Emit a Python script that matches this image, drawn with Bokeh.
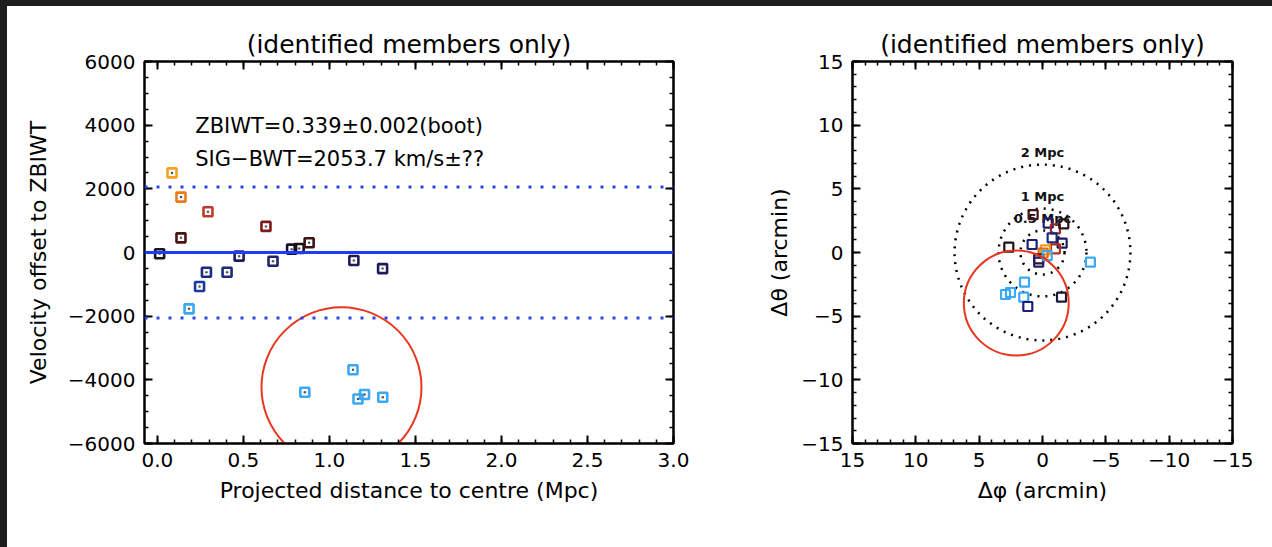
from bokeh.plotting import figure
from bokeh.models import (ColumnDataSource, Range1d, LinearAxis, SingleIntervalTicker,
                          Span, Label, CustomJSTickFormatter)
from bokeh.layouts import row
from bokeh.embed import file_html
from bokeh.resources import INLINE
from bokeh.core.properties import value

FONT = "DejaVu Sans"

# ---------------- data: left panel (velocity offset vs projected distance) ----------
dist_mpc = [0.085, 0.137, 0.294, 0.137, 0.631, 0.013, 0.475, 0.672, 0.780, 0.824, 0.882,
            0.285, 0.405, 0.245, 0.184, 1.142, 1.309,
            1.137, 0.857, 1.166, 1.204, 1.310]
vel_offset = [2500, 1740, 1280, 460, 820, -40, -115, -275, 105, 125, 305,
              -620, -620, -1070, -1770, -250, -505,
              -3685, -4390, -4600, -4460, -4545]
colors_left = ["#F6A21E", "#EE7A16", "#C43A2A", "#4A1414", "#7A1A1A", "#16161E", "#1E1E64",
               "#22226A", "#101030", "#1A1010", "#3A1212",
               "#1A2A80", "#1E2A7A", "#1A3A9A", "#38A8F0", "#1C1C5C", "#1C1C5C",
               "#3AA8F5", "#3AA8F5", "#3AA8F5", "#3AA8F5", "#3AA8F5"]

ZBIWT = 0.339
ZBIWT_ERR = 0.002
SIG_BWT = 2053.7

x1_ticks = [0.0, 0.5, 1.0, 1.5, 2.0, 2.5, 3.0]
x1_labels = ["0.0", "0.5", "1.0", "1.5", "2.0", "2.5", "3.0"]
y1_ticks = [-6000, -4000, -2000, 0, 2000, 4000, 6000]
y1_labels = ["\u22126000", "\u22124000", "\u22122000", "0", "2000", "4000", "6000"]

# highlight circle (left), centre in data units
hl1_x = [1.07]
hl1_y = [-4232]

# ---------------- data: right panel (sky positions) ----------------
dphi = [0.74, -0.45, -1.02, -1.68, -0.76, -1.55, -1.02, 0.82, 2.66, -0.23, -0.05,
        0.30, 0.30, -0.37, -3.78, 1.42, 2.92, 2.53, 1.48, -1.50, 1.16]
dtheta = [2.98, 2.30, 1.86, 2.25, 1.15, 0.73, 0.29, 0.63, 0.42, 0.21, -0.05,
          -0.50, -0.76, -0.24, -0.76, -2.33, -3.30, -3.14, -3.51, -3.51, -4.24]
colors_right = ["#4A1010", "#1E1E6E", "#A02828", "#2A1515", "#1E2A80", "#1C1C5C", "#B03020",
                "#1E1E78", "#1A1414", "#F29A18", "#E86A10",
                "#3A1414", "#1E1E6E", "#3AA8F5", "#3AA8F5", "#3AA8F5", "#3AA8F5", "#3AA8F5",
                "#3AA8F5", "#1A1A3A", "#1E1E80"]

ring_radius = [1.74, 3.47, 6.94]
ring_label = ["0.5 Mpc", "1 Mpc", "2 Mpc"]

x2_ticks = [15, 10, 5, 0, -5, -10, -15]
x2_labels = ["15", "10", "5", "0", "\u22125", "\u221210", "\u221215"]
y2_ticks = [-15, -10, -5, 0, 5, 10, 15]
y2_labels = ["\u221215", "\u221210", "\u22125", "0", "5", "10", "15"]

hl2_x = [2.07]
hl2_y = [-3.97]
hl2_r = [4.14]


def style_axis(ax, labels=True):
    ax.axis_line_color = "black"
    ax.axis_line_width = 2
    ax.major_tick_line_color = "black"
    ax.major_tick_line_width = 2
    ax.minor_tick_line_color = "black"
    ax.minor_tick_line_width = 1.5
    ax.major_tick_in = 8
    ax.major_tick_out = 0
    ax.minor_tick_in = 4
    ax.minor_tick_out = 0
    if labels:
        ax.major_label_text_font = FONT
        ax.major_label_text_font_size = "20px"
        ax.major_label_text_color = "black"
        ax.major_label_standoff = 9
        ax.axis_label_text_font = FONT
        ax.axis_label_text_font_size = "22px"
        ax.axis_label_text_font_style = "normal"
        ax.axis_label_text_color = "black"
    else:
        ax.formatter = CustomJSTickFormatter(code="return ''")
        ax.major_label_standoff = 0


def base_fig(width, xr, yr, mb_left, mb_right):
    p = figure(width=width, height=541, x_range=xr, y_range=yr,
               output_backend="svg", toolbar_location=None,
               min_border_left=mb_left, min_border_right=mb_right,
               min_border_top=55, min_border_bottom=104)
    p.grid.visible = False
    p.background_fill_color = "white"
    p.border_fill_color = "white"
    p.outline_line_color = "black"
    p.outline_line_width = 2
    p.title.text = "(identified members only)"
    p.title.text_font = FONT
    p.title.text_font_size = "25px"
    p.title.text_font_style = "normal"
    p.title.text_color = "black"
    p.title.align = "center"
    p.title.standoff = 6
    return p


# ---------------- left figure ----------------
p1 = base_fig(753, Range1d(-0.075, 3.0), Range1d(-6000, 6000), 137, 87)
xt1 = SingleIntervalTicker(interval=0.5, num_minor_ticks=5)
yt1 = SingleIntervalTicker(interval=2000, num_minor_ticks=4)
p1.xaxis.ticker = xt1
p1.yaxis.ticker = yt1
p1.xaxis.major_label_overrides = dict(zip(x1_ticks, x1_labels))
p1.yaxis.major_label_overrides = dict(zip(y1_ticks, y1_labels))
p1.xaxis.axis_label = "Projected distance to centre (Mpc)"
p1.yaxis.axis_label = "Velocity offset to ZBIWT"
for ax in p1.xaxis + p1.yaxis:
    style_axis(ax)
p1.xaxis.axis_label_standoff = 8
p1.yaxis.axis_label_standoff = 14
for loc, tk in (("above", xt1), ("right", yt1)):
    ax = LinearAxis(ticker=tk)
    style_axis(ax, labels=False)
    p1.add_layout(ax, loc)

p1.add_layout(Span(location=0, dimension="width", line_color="#1F3BFF", line_width=3))
for s in (SIG_BWT, -SIG_BWT):
    p1.add_layout(Span(location=s, dimension="width", line_color="#2A44F0",
                       line_width=3, line_dash="3 9"))

src1 = ColumnDataSource(dict(x=dist_mpc, y=vel_offset, c=colors_left))
p1.scatter("x", "y", source=src1, marker="square", size=9, fill_color=None,
           line_color="c", line_width=2.6)
p1.scatter("x", "y", source=src1, marker="circle", size=2.5, fill_color="#555555",
           line_color=None)

p1.add_layout(Label(x=0.22, y=3960, text=f"ZBIWT={ZBIWT:.3f}\u00b1{ZBIWT_ERR:.3f}(boot)",
                    text_font=FONT, text_font_size="21px", text_baseline="middle",
                    text_color="black"))
p1.add_layout(Label(x=0.22, y=2950, text=f"SIG\u2212BWT={SIG_BWT:.1f} km/s\u00b1??",
                    text_font=FONT, text_font_size="21px", text_baseline="middle",
                    text_color="black"))

p1.scatter(hl1_x, hl1_y, marker="circle", size=160, fill_color=None,
           line_color="#E8361F", line_width=2)

# ---------------- right figure ----------------
p2 = base_fig(512, Range1d(15, -15), Range1d(-15, 15), 92, 40)
xt2 = SingleIntervalTicker(interval=5, num_minor_ticks=5)
yt2 = SingleIntervalTicker(interval=5, num_minor_ticks=5)
p2.xaxis.ticker = xt2
p2.yaxis.ticker = yt2
p2.xaxis.major_label_overrides = dict(zip(x2_ticks, x2_labels))
p2.yaxis.major_label_overrides = dict(zip(y2_ticks, y2_labels))
p2.xaxis.axis_label = "\u0394\u03c6 (arcmin)"
p2.yaxis.axis_label = "\u0394\u03b8 (arcmin)"
for ax in p2.xaxis + p2.yaxis:
    style_axis(ax)
p2.xaxis.axis_label_standoff = 8
p2.yaxis.axis_label_standoff = 6
for loc, tk in (("above", xt2), ("right", yt2)):
    ax = LinearAxis(ticker=tk)
    style_axis(ax, labels=False)
    p2.add_layout(ax, loc)

ring_src = ColumnDataSource(dict(x=[0] * len(ring_radius), y=[0] * len(ring_radius),
                                 r=ring_radius, lab=ring_label))
p2.circle(x="x", y="y", radius="r", source=ring_src, fill_color=None, line_color="black",
          line_width=2.5, line_dash="2 6")
p2.text(x="x", y="r", text="lab", source=ring_src, text_font=value(FONT),
        text_font_size="13px", text_font_style="bold", text_align="center",
        text_baseline="bottom", y_offset=-4, text_color="#111111")

src2 = ColumnDataSource(dict(x=dphi, y=dtheta, c=colors_right))
p2.scatter("x", "y", source=src2, marker="square", size=9, fill_color=None,
           line_color="c", line_width=2.2)

p2.circle(x=hl2_x, y=hl2_y, radius=hl2_r, fill_color=None, line_color="#E8361F",
          line_width=2)

p1.margin = (6, 0, 0, 7)
p2.margin = (6, 0, 0, 0)
bg = ("linear-gradient(#1e1e1e, #1e1e1e) left top / 100% 6px no-repeat, "
      "linear-gradient(#1e1e1e, #1e1e1e) left top / 7px 100% no-repeat, white")
layout = row(p1, p2, styles={"background": bg})

open("out.html", "w").write(file_html(layout, INLINE))
